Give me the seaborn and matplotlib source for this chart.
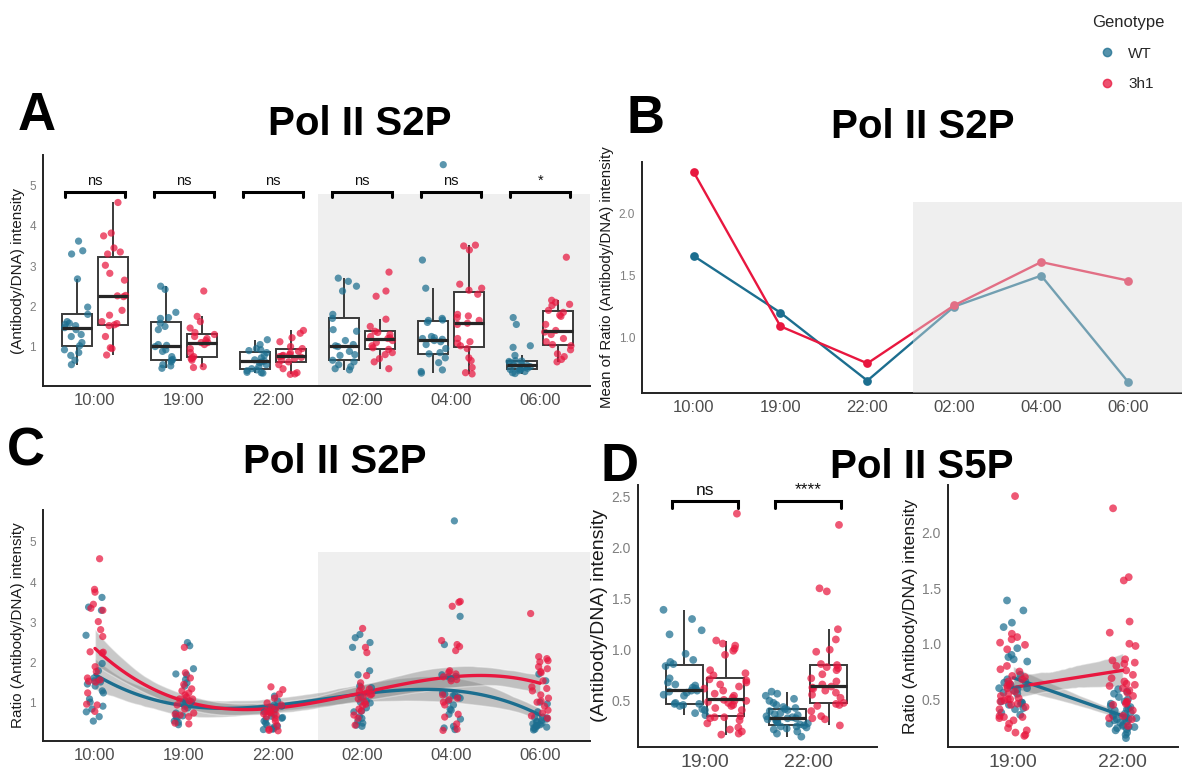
import matplotlib
matplotlib.use("Agg")
import matplotlib.pyplot as plt
import numpy as np
import pandas as pd
import seaborn as sns
from matplotlib.lines import Line2D
from matplotlib.patches import Rectangle

sns.set_style("white")
plt.rcParams["font.family"] = ["Liberation Sans", "DejaVu Sans"]

# ---- data -------------------------------------------------------------
times = ["10:00", "19:00", "22:00", "02:00", "04:00", "06:00"]
genotypes = ["WT", "3h1"]
colors = {"WT": "#1C6E8F", "3h1": "#E8173F"}

# Pol II S2P, ratio (Antibody/DNA) per nucleus
wt_1000 = [3.62, 3.38, 3.30, 2.68, 1.98, 1.80, 1.62, 1.58, 1.55, 1.52, 1.47,
           1.42, 1.30, 1.25, 1.10, 1.02, 0.92, 0.85, 0.78, 0.66, 0.55]
h1_1000 = [4.58, 3.82, 3.75, 3.45, 3.35, 3.30, 3.02, 2.82, 2.65, 2.27, 2.26,
           2.24, 1.90, 1.78, 1.62, 1.57, 1.54, 1.52, 1.25, 0.97, 0.95, 0.79]
wt_1900 = [2.50, 2.42, 1.85, 1.72, 1.70, 1.58, 1.50, 1.42, 1.05, 1.03, 1.00,
           0.92, 0.88, 0.75, 0.68, 0.66, 0.62, 0.55, 0.52, 0.46]
h1_1900 = [2.38, 1.75, 1.62, 1.46, 1.35, 1.30, 1.25, 1.20, 1.15, 1.10, 1.10,
           1.05, 0.95, 0.85, 0.75, 0.72, 0.70, 0.66, 0.50, 0.48]
wt_2200 = [1.17, 1.05, 0.95, 0.92, 0.90, 0.85, 0.78, 0.72, 0.67, 0.64, 0.62,
           0.60, 0.55, 0.50, 0.45, 0.42, 0.40, 0.36, 0.35, 0.34]
h1_2200 = [1.40, 1.33, 1.22, 1.12, 1.00, 0.95, 0.88, 0.84, 0.80, 0.78, 0.77,
           0.75, 0.73, 0.70, 0.66, 0.62, 0.55, 0.45, 0.35, 0.32, 0.31]
wt_0200 = [2.70, 2.62, 2.50, 2.38, 1.80, 1.70, 1.42, 1.38, 1.15, 1.05, 1.02,
           1.00, 0.88, 0.80, 0.78, 0.66, 0.62, 0.55, 0.50, 0.45, 0.42]
h1_0200 = [2.85, 2.38, 2.25, 1.68, 1.50, 1.38, 1.35, 1.30, 1.25, 1.22, 1.20,
           1.15, 1.10, 1.02, 0.97, 0.93, 0.85, 0.80, 0.70, 0.62, 0.45]
wt_0400 = [5.52, 3.15, 2.45, 1.70, 1.66, 1.65, 1.60, 1.25, 1.22, 1.20, 1.18,
           1.15, 1.12, 1.05, 0.95, 0.85, 0.82, 0.72, 0.60, 0.42, 0.38, 0.34]
h1_0400 = [3.52, 3.50, 3.40, 2.55, 2.45, 2.40, 2.30, 1.80, 1.76, 1.72, 1.65,
           1.58, 1.55, 1.20, 1.12, 1.08, 1.02, 0.95, 0.72, 0.65, 0.48, 0.35, 0.32]
wt_0600 = [1.72, 1.55, 1.02, 0.98, 0.78, 0.65, 0.64, 0.63, 0.60, 0.56, 0.54,
           0.53, 0.50, 0.48, 0.46, 0.44, 0.43, 0.42, 0.40, 0.38, 0.35, 0.33]
h1_0600 = [3.22, 2.15, 2.10, 2.05, 2.02, 1.90, 1.85, 1.78, 1.75, 1.55, 1.40,
           1.36, 1.30, 1.20, 1.12, 1.05, 1.02, 0.92, 0.82, 0.75, 0.68, 0.62]
s2p_signif = ["ns", "ns", "ns", "ns", "ns", "*"]

# panel B: mean ratio per time point
mean_wt = [1.66, 1.20, 0.65, 1.25, 1.50, 0.64]
mean_3h1 = [2.34, 1.09, 0.79, 1.26, 1.61, 1.46]

# Pol II S5P (panel D)
s5p_times = ["19:00", "22:00"]
s5p_wt_1900 = [1.39, 1.30, 1.19, 1.15, 0.96, 0.90, 0.88, 0.86, 0.84, 0.72,
               0.68, 0.66, 0.65, 0.63, 0.62, 0.60, 0.60, 0.59, 0.58, 0.56,
               0.55, 0.47, 0.46, 0.48, 0.47, 0.45, 0.42, 0.41, 0.38, 0.36]
s5p_h1_1900 = [2.33, 1.09, 1.06, 1.04, 1.01, 0.99, 0.95, 0.80, 0.77, 0.75,
               0.70, 0.71, 0.68, 0.66, 0.64, 0.62, 0.60, 0.57, 0.55, 0.53,
               0.51, 0.50, 0.50, 0.49, 0.48, 0.46, 0.45, 0.43, 0.41, 0.34,
               0.35, 0.34, 0.33, 0.31, 0.28, 0.24, 0.22, 0.20, 0.18, 0.17]
s5p_wt_2200 = [0.59, 0.57, 0.55, 0.52, 0.50, 0.48, 0.46, 0.44, 0.43, 0.42,
               0.41, 0.40, 0.38, 0.37, 0.36, 0.35, 0.34, 0.33, 0.33, 0.32,
               0.32, 0.31, 0.30, 0.29, 0.28, 0.27, 0.26, 0.25, 0.25, 0.24,
               0.23, 0.22, 0.20, 0.18, 0.15]
s5p_h1_2200 = [2.22, 1.60, 1.57, 1.20, 1.10, 1.00, 0.98, 0.86, 0.85, 0.83,
               0.82, 0.80, 0.76, 0.72, 0.69, 0.66, 0.64, 0.63, 0.62, 0.60,
               0.58, 0.56, 0.53, 0.48, 0.47, 0.46, 0.45, 0.40, 0.35, 0.33,
               0.32, 0.26]
s5p_signif = ["ns", "****"]

# ---- long tables --------------------------------------------------------
s2p_groups = [
    ("10:00", "WT", wt_1000), ("10:00", "3h1", h1_1000),
    ("19:00", "WT", wt_1900), ("19:00", "3h1", h1_1900),
    ("22:00", "WT", wt_2200), ("22:00", "3h1", h1_2200),
    ("02:00", "WT", wt_0200), ("02:00", "3h1", h1_0200),
    ("04:00", "WT", wt_0400), ("04:00", "3h1", h1_0400),
    ("06:00", "WT", wt_0600), ("06:00", "3h1", h1_0600),
]
s2p = pd.DataFrame([(t, g, v) for t, g, vals in s2p_groups for v in vals],
                   columns=["time", "genotype", "ratio"])
s2p["pos"] = s2p["time"].map({t: i for i, t in enumerate(times)})

means = pd.DataFrame({"time": times * 2,
                      "genotype": ["WT"] * 6 + ["3h1"] * 6,
                      "mean": mean_wt + mean_3h1})

s5p_groups = [
    ("19:00", "WT", s5p_wt_1900), ("19:00", "3h1", s5p_h1_1900),
    ("22:00", "WT", s5p_wt_2200), ("22:00", "3h1", s5p_h1_2200),
]
s5p = pd.DataFrame([(t, g, v) for t, g, vals in s5p_groups for v in vals],
                   columns=["time", "genotype", "ratio"])
s5p["pos"] = s5p["time"].map({t: i for i, t in enumerate(s5p_times)})

# ---- figure --------------------------------------------------------------
W, H = 1182, 774
fig = plt.figure(figsize=(W / 100, H / 100), dpi=100)


def add_ax(left, top, right, bottom):
    return fig.add_axes([left / W, 1 - bottom / H, (right - left) / W, (bottom - top) / H])


def style(ax, xlim, ylim, yticks, ylabel, xfs=12, yfs=8.5, ylfs=10):
    sns.despine(ax=ax)
    ax.set_xlim(*xlim)
    ax.set_ylim(*ylim)
    ax.set_yticks(yticks)
    ax.set_xlabel("")
    ax.set_ylabel(ylabel, fontsize=ylfs, color="#1a1a1a", labelpad=3)
    for s in ("left", "bottom"):
        ax.spines[s].set_color("#222222")
        ax.spines[s].set_linewidth(1.4)
    ax.tick_params(axis="x", labelsize=xfs, labelcolor="#4d4d4d", length=3,
                   color="#444444", width=0.8, pad=2)
    ax.tick_params(axis="y", labelsize=yfs, labelcolor="#7f7f7f", length=3,
                   color="#444444", width=0.8, pad=2)


def brackets(ax, labels, y_lo, y_hi, y_txt, half, fs):
    for i, lab in enumerate(labels):
        ax.plot([i - half, i - half, i + half, i + half], [y_lo, y_hi, y_hi, y_lo],
                color="black", lw=2.2, solid_joinstyle="miter", clip_on=False, zorder=6)
        ax.text(i, y_txt, lab, ha="center", va="center", fontsize=fs, color="#111111")


def grey_band(ax):
    band = ax.collections[-1]
    band.set_facecolor("#7a7a7a")
    band.set_alpha(0.4)


box_kws = dict(showfliers=False, showcaps=False, width=0.8, linecolor="#3a3a3a",
               linewidth=1.4, palette={"WT": "white", "3h1": "white"}, legend=False,
               medianprops={"color": "#262626", "linewidth": 2.3, "zorder": 5})

# A: box + jitter
axA = add_ax(43, 155, 590, 386)
axA.add_patch(Rectangle((2.51, -1), 5, 5.79, color="#efefef", lw=0, zorder=0))
np.random.seed(3)
sns.boxplot(data=s2p, x="time", y="ratio", hue="genotype", order=times,
            hue_order=genotypes, gap=0.16, ax=axA, **box_kws)
sns.stripplot(data=s2p, x="time", y="ratio", hue="genotype", order=times,
              hue_order=genotypes, dodge=True, jitter=0.3, palette=colors,
              alpha=0.72, size=5.2, linewidth=0, legend=False, ax=axA)
brackets(axA, s2p_signif, 4.71, 4.84, 5.12, 0.34, 10.5)
style(axA, (-0.584, 5.56), (0.02, 5.76), [1, 2, 3, 4, 5],
      "(Antibody/DNA) intensity", ylfs=11)

# B: mean lines
axB = add_ax(642, 162, 1182, 393)
sns.pointplot(data=means, x="time", y="mean", hue="genotype", order=times,
              hue_order=genotypes, palette=colors, errorbar=None, markers="o",
              markersize=5, linewidth=1.7, legend=False, ax=axB)
axB.add_patch(Rectangle((2.52, 0), 5, 2.1, facecolor="#dcdcdc", alpha=0.45,
                        lw=0, zorder=10))
style(axB, (-0.593, 5.62), (0.55, 2.42), [1.0, 1.5, 2.0],
      "Mean of Ratio (Antibody/DNA) intensity", ylfs=10.8)

# C: jitter + cubic fits
axC = add_ax(43, 510, 590, 741)
axC.add_patch(Rectangle((2.51, -1), 5, 5.74, color="#efefef", lw=0, zorder=0))
sns.stripplot(data=s2p, x="time", y="ratio", hue="genotype", order=times,
              hue_order=genotypes, dodge=False, jitter=0.11, palette=colors,
              alpha=0.72, size=5.2, linewidth=0, legend=False, ax=axC)
for g in genotypes:
    sub = s2p[s2p["genotype"] == g]
    sns.regplot(x=sub["pos"].values, y=sub["ratio"].values, order=3, scatter=False,
                ci=95, n_boot=400, seed=1, color=colors[g], line_kws={"lw": 2.4},
                ax=axC)
    grey_band(axC)
style(axC, (-0.584, 5.56), (0.056, 5.79), [1, 2, 3, 4, 5],
      "Ratio (Antibody/DNA) intensity", ylfs=11)
axC.set_xticks(range(len(times)), times)

# D left: S5P box + jitter
axD1 = add_ax(638, 485, 877, 747)
sns.boxplot(data=s5p, x="time", y="ratio", hue="genotype", order=s5p_times,
            hue_order=genotypes, gap=0.09, ax=axD1, **box_kws)
sns.stripplot(data=s5p, x="time", y="ratio", hue="genotype", order=s5p_times,
              hue_order=genotypes, dodge=True, jitter=0.42, palette=colors,
              alpha=0.72, size=5.6, linewidth=0, legend=False, ax=axD1)
brackets(axD1, s5p_signif, 2.39, 2.45, 2.56, 0.32, 12.5)
style(axD1, (-0.65, 1.67), (0.049, 2.61), [0.5, 1.0, 1.5, 2.0, 2.5],
      "(Antibody/DNA) intensity", xfs=14, yfs=10, ylfs=14)

# D right: S5P jitter + linear fits
axD2 = add_ax(948, 485, 1178, 747)
sns.stripplot(data=s5p, x="time", y="ratio", hue="genotype", order=s5p_times,
              hue_order=genotypes, dodge=False, jitter=0.13, palette=colors,
              alpha=0.72, size=5.6, linewidth=0, legend=False, ax=axD2)
for g in genotypes:
    sub = s5p[s5p["genotype"] == g]
    sns.regplot(x=sub["pos"].values, y=sub["ratio"].values, order=1, scatter=False,
                ci=95, n_boot=400, seed=1, color=colors[g], line_kws={"lw": 2.4},
                ax=axD2)
    grey_band(axD2)
style(axD2, (-0.596, 1.505), (0.07, 2.43), [0.5, 1.0, 1.5, 2.0],
      "Ratio (Antibody/DNA) intensity", xfs=14, yfs=10, ylfs=12.5)
axD2.set_xticks(range(len(s5p_times)), s5p_times)

# panel letters and titles
letters = [("A", 37, 116), ("B", 646, 119), ("C", 26, 452), ("D", 619, 467)]
for lab, x, y in letters:
    fig.text(x / W, 1 - y / H, lab, fontsize=38, fontweight="bold",
             color="black", ha="center", va="center")
titles = [("Pol II S2P", 360, 124), ("Pol II S2P", 923, 127),
          ("Pol II S2P", 335, 462), ("Pol II S5P", 922, 467)]
for lab, x, y in titles:
    fig.text(x / W, 1 - y / H, lab, fontsize=29, fontweight="bold",
             color="black", ha="center", va="center")

# legend
handles = [Line2D([], [], marker="o", ls="", color=colors[g], alpha=0.75,
                  markersize=6) for g in genotypes]
fig.legend(handles, genotypes, title="Genotype", loc="upper left",
           bbox_to_anchor=(1078 / W, 1 - 1 / H), frameon=False, fontsize=11,
           title_fontsize=12, labelspacing=1.1, handletextpad=0.4,
           alignment="left")

fig.savefig("out.png", dpi=100)
